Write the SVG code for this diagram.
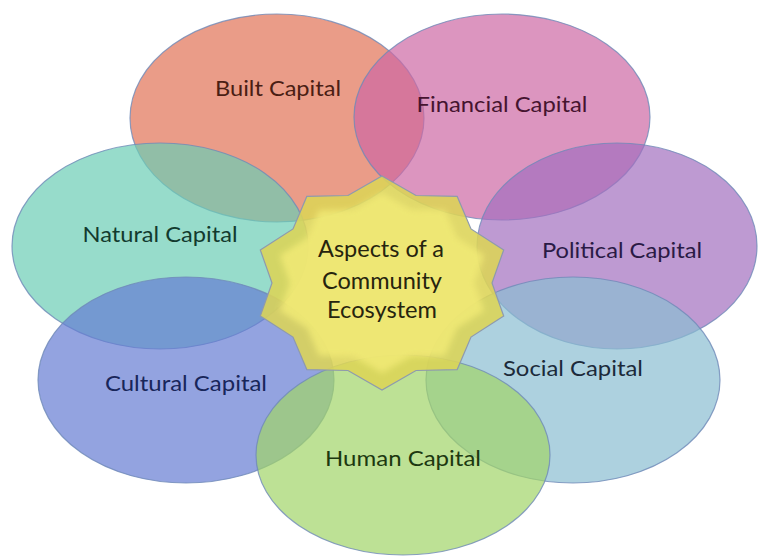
<svg xmlns="http://www.w3.org/2000/svg" width="760" height="556" viewBox="0 0 760 556">
<style>
.cap{fill-opacity:0.7;stroke:#6F89B8;stroke-width:1.2;stroke-opacity:0.8}
.lbl{font-family:"Lato","Open Sans","Liberation Sans",sans-serif;font-size:22px;text-anchor:middle}
.ctr{font-family:"Lato","Open Sans","Liberation Sans",sans-serif;font-size:23px;text-anchor:middle;fill:#26240E}
</style>
<defs>
<filter id="soft" x="-20%" y="-20%" width="140%" height="140%"><feGaussianBlur stdDeviation="4"/></filter>
<polygon id="starShape" points="382,176 416,195.5 457.2,196.4 471,228.9 503.7,249.9 492,283 503.7,316.1 471,337.1 457.2,369.6 416,370.5 382,390 348,370.5 306.8,369.6 293,337.1 260.3,316.1 272,283 260.3,249.9 293,228.9 306.8,196.4 348,195.5"/>
</defs>
<rect width="760" height="556" fill="#ffffff"/>
<g id="built-capital"><ellipse class="cap" cx="277" cy="118" rx="147" ry="104" fill="#E17255"/></g>
<g id="financial-capital"><ellipse class="cap" cx="502" cy="117" rx="148" ry="103" fill="#CD68A4"/></g>
<g id="political-capital"><ellipse class="cap" cx="617" cy="246" rx="140" ry="103" fill="#A26FBF"/></g>
<g id="social-capital"><ellipse class="cap" cx="573" cy="380" rx="147" ry="103" fill="#8ABDD1"/></g>
<g id="natural-capital"><ellipse class="cap" cx="160" cy="246" rx="148" ry="103" fill="#6BCDB5"/></g>
<g id="cultural-capital"><ellipse class="cap" cx="186" cy="380" rx="148" ry="103" fill="#657CD3"/></g>
<g id="human-capital"><ellipse class="cap" cx="403" cy="455" rx="147" ry="100" fill="#A1D468"/></g>
<g id="center">
<use href="#starShape" fill="#DCD457" fill-opacity="0.88" stroke="#8E9AAE" stroke-width="1.2"/>
<use href="#starShape" fill="#F1EA76" opacity="0.85" filter="url(#soft)" transform="translate(382,283) scale(0.84) translate(-382,-283)"/>
<text class="ctr" x="381" y="257" textLength="126" lengthAdjust="spacingAndGlyphs">Aspects of a</text>
<text class="ctr" x="382" y="289" textLength="120" lengthAdjust="spacingAndGlyphs">Community</text>
<text class="ctr" x="382" y="318" textLength="110" lengthAdjust="spacingAndGlyphs">Ecosystem</text>
</g>
<g id="labels">
<text class="lbl" x="278" y="96" fill="#4A1E14" textLength="126" lengthAdjust="spacingAndGlyphs">Built Capital</text>
<text class="lbl" x="502" y="112" fill="#45142F" textLength="171" lengthAdjust="spacingAndGlyphs">Financial Capital</text>
<text class="lbl" x="160" y="242" fill="#123A2E" textLength="155" lengthAdjust="spacingAndGlyphs">Natural Capital</text>
<text class="lbl" x="622" y="258" fill="#2A1A45" textLength="160" lengthAdjust="spacingAndGlyphs">Political Capital</text>
<text class="lbl" x="186" y="391" fill="#18265A" textLength="162" lengthAdjust="spacingAndGlyphs">Cultural Capital</text>
<text class="lbl" x="573" y="376" fill="#1C2A3A" textLength="140" lengthAdjust="spacingAndGlyphs">Social Capital</text>
<text class="lbl" x="403" y="466" fill="#1C3810" textLength="156" lengthAdjust="spacingAndGlyphs">Human Capital</text>
</g>
</svg>
